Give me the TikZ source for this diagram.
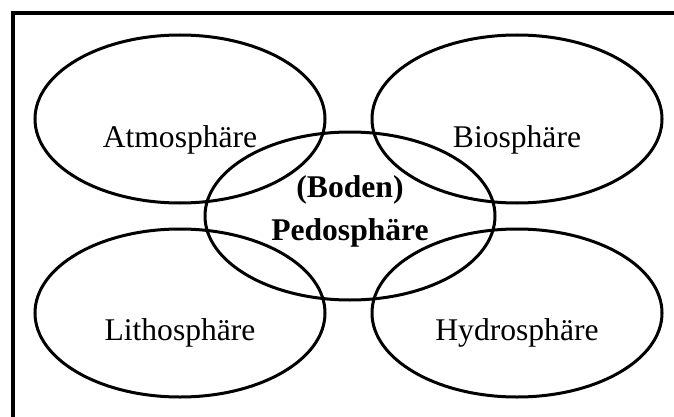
\documentclass[tikz,border=0pt]{standalone}
\usepackage{fontspec}
\setmainfont{Liberation Serif}
\usetikzlibrary{shapes}
\usetikzlibrary{positioning}
\tikzset{
    sphnode/.style = {ellipse, line width=3pt, draw=black, minimum width=290pt, minimum height=168pt, inner sep=0pt},
    sphtext/.style = {anchor=base, align=center, inner sep=0pt, font=\fontsize{31.6}{43}\selectfont, text=black},
    sphtextb/.style = {anchor=base, align=center, inner sep=0pt, font=\fontsize{31.6}{43}\selectfont\bfseries, text=black},
    framen/.style = {line width=4pt, black}, % outer box
}

\begin{document}
\begin{tikzpicture}[x=1pt, y=-1pt]
  \path[use as bounding box, clip] (0,0) rectangle (674,417);
  \draw[framen] (13,13) rectangle (700,440);

  % outer spheres
  \node[sphnode] (atmo)  at (180,119) {};
  \node[sphnode] (bio)   at (517,119) {};
  \node[sphnode] (litho) at (180,313) {};
  \node[sphnode] (hydro) at (517,313) {};
  % soil in the middle
  \node[sphnode] (pedo)  at (350,216) {};

  \node[sphtext] (atmotxt)  at ([yshift=-28pt]atmo.center)  {Atmosphäre};
  \node[sphtext] (biotxt)   at ([yshift=-28pt]bio.center)   {Biosphäre};
  \node[sphtext] (lithotxt) at ([yshift=-27pt]litho.center) {Lithosphäre};
  \node[sphtext] (hydrotxt) at ([yshift=-27pt]hydro.center) {Hydrosphäre};
  \node[sphtextb] (bodentxt) at ([yshift=19pt]pedo.center) {(Boden)};
  \node[sphtextb] (pedotxt) at ([yshift=-24pt]pedo.center) {Pedosphäre};

\end{tikzpicture}
\end{document}
